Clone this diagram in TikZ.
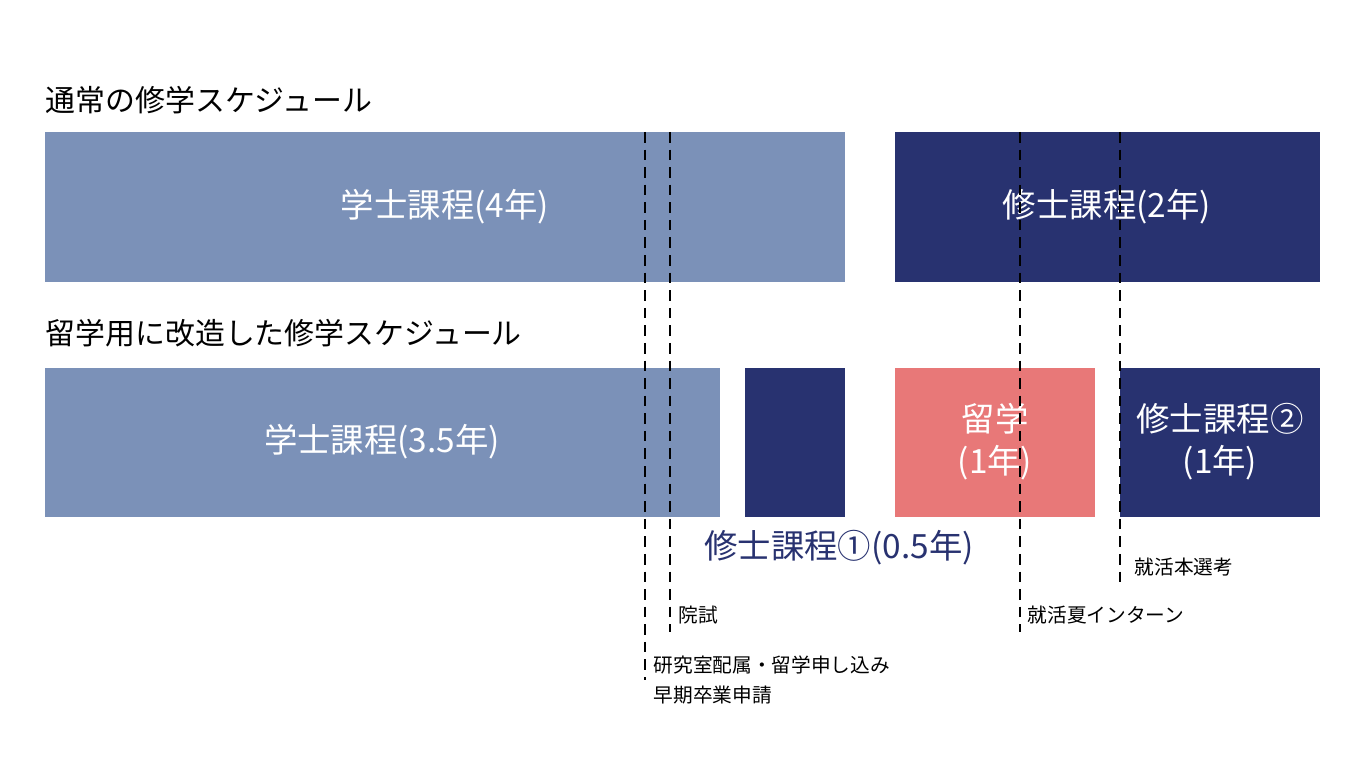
\documentclass[tikz,border=0pt]{standalone}
\usepackage{fontspec}
\setmainfont{Noto Sans CJK JP}
\usetikzlibrary{positioning}
\definecolor{bachelor}{HTML}{7B91B8}
\definecolor{master}{HTML}{283270}
\definecolor{abroad}{HTML}{E87878}
\begin{document}
\begin{tikzpicture}[x=0.01cm, y=-0.01cm]
    \tikzstyle{every node} = [align=center, inner sep=0pt]
    \tikzstyle{title} = [anchor=west, font=\fontsize{8.5pt}{10pt}\selectfont]
    \tikzstyle{course} = [text=white, font=\fontsize{9.5pt}{12pt}\selectfont]
    \tikzstyle{note} = [anchor=west, align=left, font=\fontsize{5.6pt}{8.5pt}\selectfont]
    \tikzstyle{milestone} = [densely dashed, line width=0.7pt]
    \useasboundingbox (0,0) rectangle (1366,768);
    % normal schedule
    \node [title] (t1) at (45,100) {通常の修学スケジュール};
    \fill [bachelor] (45,132) rectangle (845,282);
    \node [course] (b4) at (445,207) {学士課程(4年)};
    \fill [master] (895,132) rectangle (1320,282);
    \node [course] (m2) at (1107,207) {修士課程(2年)};
    % modified schedule
    \node [title] (t2) at (45,333) {留学用に改造した修学スケジュール};
    \fill [bachelor] (45,368) rectangle (720,517);
    \node [course] (b35) at (382,442) {学士課程(3.5年)};
    \fill [master] (745,368) rectangle (845,517);
    \fill [abroad] (895,368) rectangle (1095,517);
    \node [course] (ab) at (995,442) {留学\\(1年)};
    \fill [master] (1120,368) rectangle (1320,517);
    \node [course] (m1b) at (1220,442) {修士課程②\\(1年)};
    \node [course, text=master] (m1a) at (839,548) {修士課程①(0.5年)};
    % milestones
    \coordinate (top) at (0,132);
    \coordinate (d1) at (645,680);
    \coordinate (d2) at (670,632);
    \coordinate (d3) at (1020,632);
    \coordinate (d4) at (1120,582);
    \foreach \d in {d1,d2,d3,d4}
        \draw [milestone] (\d |- top) -- (\d);
    \node [note] (n1) at (653,680) {研究室配属・留学申し込み\\早期卒業申請};
    \node [note] (n2) at (678,615) {院試};
    \node [note] (n3) at (1027,615) {就活夏インターン};
    \node [note] (n4) at (1134,567) {就活本選考};
\end{tikzpicture}
\end{document}
